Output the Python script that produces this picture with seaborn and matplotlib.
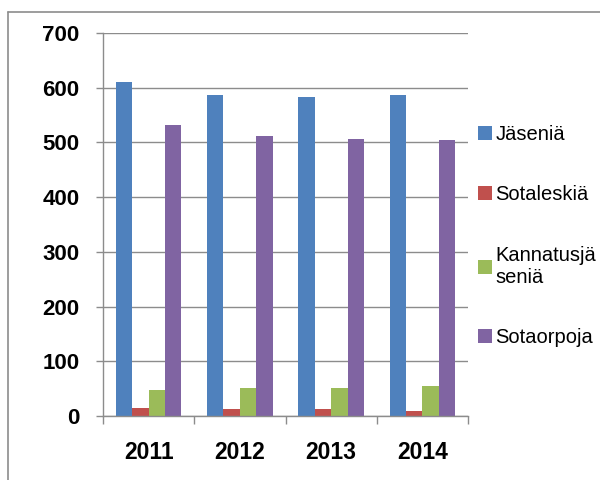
import numpy as np
import pandas as pd
import seaborn as sns
import matplotlib.pyplot as plt
from matplotlib.lines import Line2D

years = ["2011", "2012", "2013", "2014"]
series = ["Jäseniä", "Sotaleskiä", "Kannatusjä\nseniä", "Sotaorpoja"]
jasenia = [610, 587, 583, 587]
sotaleskia = [15, 13, 13, 10]
kannatus = [47, 51, 51, 55]
sotaorpoja = [532, 511, 506, 504]
colors = ["#4F81BD", "#C0504D", "#9BBB59", "#8064A2"]

df = pd.DataFrame({
    "year": years * 4,
    "series": np.repeat(series, 4),
    "value": jasenia + sotaleskia + kannatus + sotaorpoja,
})

sns.set_theme(style="white")
plt.rcParams["font.family"] = ["Liberation Sans", "DejaVu Sans"]
plt.rcParams["text.color"] = "black"
plt.rcParams["xtick.labelcolor"] = "black"
plt.rcParams["ytick.labelcolor"] = "black"

fig = plt.figure(figsize=(6, 4.8), dpi=100)
ax = fig.add_axes([103 / 600, 1 - 416 / 480, 365 / 600, 383 / 480])

sns.barplot(data=df, x="year", y="value", hue="series", palette=colors,
            width=0.72, gap=0, saturation=1, linewidth=0, ax=ax, legend=True)

ax.set_ylim(0, 700)
ax.set_xlim(-0.5, 3.5)
ax.set_yticks(range(0, 701, 100))
ax.yaxis.grid(True, color="#8c8c8c", linewidth=1)
ax.set_axisbelow(True)
ax.set_xlabel("")
ax.set_ylabel("")

for s in ["top", "right"]:
    ax.spines[s].set_visible(False)
for s in ["left", "bottom"]:
    ax.spines[s].set_color("#8c8c8c")
    ax.spines[s].set_linewidth(1)

ax.tick_params(axis="y", left=True, length=5, color="#8c8c8c", width=1,
               labelsize=16, pad=12)
ax.tick_params(axis="x", which="major", bottom=False, labelsize=16.5, pad=12)
ax.set_xticks([-0.5, 0.5, 1.5, 2.5, 3.5], minor=True)
ax.tick_params(axis="x", which="minor", bottom=True, length=6,
               color="#8c8c8c", width=1)
for lab in ax.get_xticklabels() + ax.get_yticklabels():
    lab.set_fontweight("bold")

handles, labels = ax.get_legend_handles_labels()
ax.legend(handles, labels, loc="center left", bbox_to_anchor=(1.0, 0.47),
          frameon=False, fontsize=14.5, handlelength=0.7, handleheight=0.7,
          handletextpad=0.15, labelspacing=2.05, borderaxespad=0.1)

# chart border (only top and left edges are visible in the crop)
fig.add_artist(Line2D([8 / 600, 8 / 600], [0, 1 - 12 / 480],
                      color="#8c8c8c", linewidth=1.2))
fig.add_artist(Line2D([8 / 600, 1], [1 - 12 / 480, 1 - 12 / 480],
                      color="#8c8c8c", linewidth=1.2))

fig.savefig("out.png", dpi=100)
